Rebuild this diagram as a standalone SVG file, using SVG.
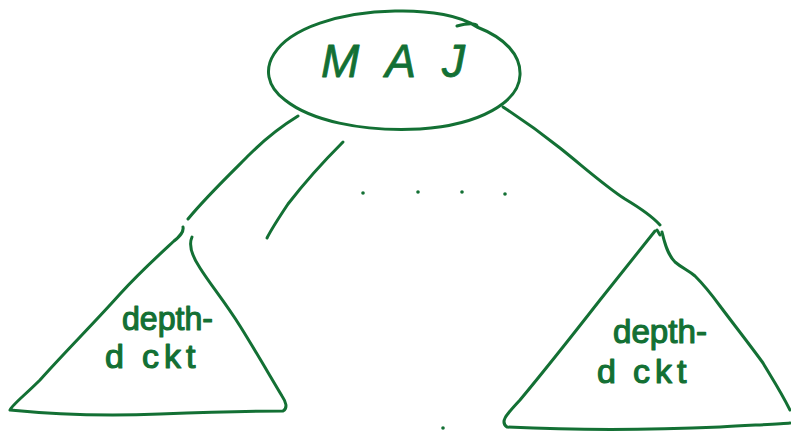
<svg xmlns="http://www.w3.org/2000/svg" width="791" height="432" viewBox="0 0 791 432">
<style>
.ink{fill:none;stroke:#137034;stroke-width:3;stroke-linecap:round;stroke-linejoin:round}
.lbl{fill:#137034;stroke:#137034;stroke-width:1.2;stroke-linejoin:round;font-family:"Liberation Sans",Arial,sans-serif}
.dot{fill:#137034}
</style>
<rect width="791" height="432" fill="#ffffff"/>
<g id="maj">
<path class="ink" d="M457,26 C472,22 478,24 477,27 C505,38 521,55 520,75 C519,102 480,125 420,129 C360,132 310,120 285,100 C266,86 265,68 274,54 C290,28 340,12 395,11 C430,10 462,16 477,27"/>
<text class="lbl" x="321" y="77" font-size="46" letter-spacing="26" font-style="italic" style="stroke-width:0.8">MAJ</text>
</g>
<g id="connectors">
<path class="ink" d="M298,116 C285,124 270,134 250,154 C230,174 205,198 188,219"/>
<path class="ink" d="M343,142 C325,160 305,182 288,204 C280,216 272,228 267,238"/>
<path class="ink" d="M503,107 C520,118 540,132 560,148 C585,168 605,186 625,199 C640,208 652,216 660,225"/>
</g>
<g id="dots">
<circle class="dot" cx="363" cy="193" r="1.8"/>
<circle class="dot" cx="418" cy="192" r="1.8"/>
<circle class="dot" cx="462" cy="192" r="1.8"/>
<circle class="dot" cx="505" cy="194" r="1.8"/>
<circle class="dot" cx="443" cy="428" r="1.8"/>
</g>
<g id="left-tree">
<path class="ink" d="M183,227 C184,232 180,236 174,241 C160,254 140,272 120,294 C95,322 65,352 40,380 C25,395 12,405 10,410 C60,415 110,416 160,414 C210,412 250,411 283,411 C288,408 286,402 282,396 C270,376 255,350 240,326 C225,302 210,284 200,268 C192,256 188,246 192,237"/>
<text class="lbl" x="122" y="330" font-size="34" textLength="91" lengthAdjust="spacingAndGlyphs">depth-</text>
<text class="lbl" y="368" font-size="34"><tspan x="105">d</tspan> <tspan x="142" letter-spacing="5">ckt</tspan></text>
</g>
<g id="right-tree">
<path class="ink" d="M655,231 C640,250 620,275 600,300 C575,332 545,370 520,400 C505,416 500,422 507,427 C570,430 650,430 720,427 C755,425 780,424 790,423"/>
<path class="ink" d="M657,230 L660,235"/>
<path class="ink" d="M662,232 C665,245 668,255 675,262 C682,268 688,270 695,276 C705,286 712,295 720,306 C735,326 750,345 763,363 C770,375 780,390 790,410"/>
<text class="lbl" x="613" y="343" font-size="34" textLength="94" lengthAdjust="spacingAndGlyphs">depth-</text>
<text class="lbl" y="383" font-size="34"><tspan x="597">d</tspan> <tspan x="633" letter-spacing="5">ckt</tspan></text>
</g>
</svg>
